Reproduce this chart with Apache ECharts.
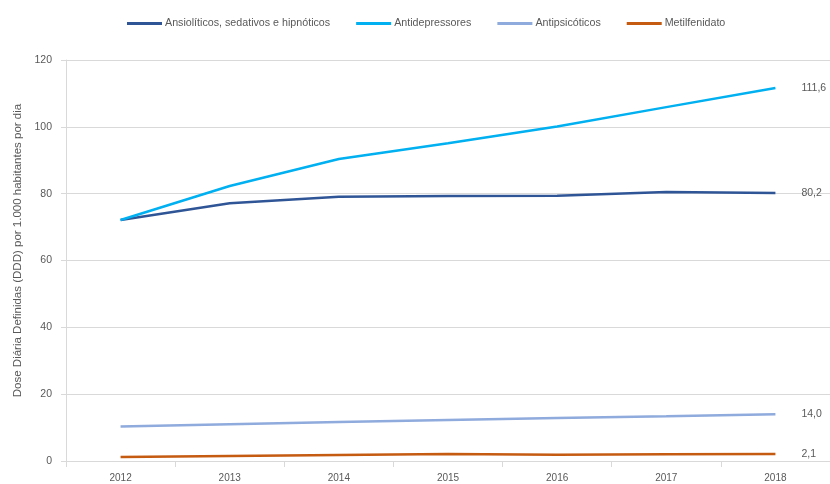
<!DOCTYPE html>
<html>
<head>
<meta charset="utf-8">
<script src="https://cdn.jsdelivr.net/npm/echarts@6/dist/echarts.min.js"></script>
<style>
html,body{margin:0;padding:0;background:#fff;}
#c{width:830px;height:484px;}
</style>
</head>
<body>
<div id="c"></div>
<script>
var years = ['2012','2013','2014','2015','2016','2017','2018'];
var ansioliticos = [72.1, 77.1, 79.1, 79.3, 79.4, 80.5, 80.2];
var antidepressores = [72.1, 82.3, 90.4, 95.1, 100.1, 105.9, 111.6];
var antipsicoticos = [10.3, 11.0, 11.7, 12.3, 12.9, 13.4, 14.0];
var metilfenidato = [1.2, 1.5, 1.8, 2.1, 1.9, 2.0, 2.1];
var seriesNames = ['Ansiolíticos, sedativos e hipnóticos','Antidepressores','Antipsicóticos','Metilfenidato'];
var colors = ['#2F5597','#00B0F0','#8FAADC','#C55A11'];
var yTitle = 'Dose Diária Definidas (DDD) por 1.000 habitantes por dia';

var font = '"Liberation Sans", Arial, sans-serif';
var textColor = '#595959';

function mk(name, data, color) {
  return {
    name: name, type: 'line', data: data,
    symbol: 'none', smooth: false,
    lineStyle: {color: color, width: 2.5},
    itemStyle: {color: color},
    endLabel: {
      show: true, distance: 26,
      color: textColor, fontFamily: font, fontSize: 10.5,
      formatter: function(p){ return Number(p.value).toFixed(1).replace('.', ','); }
    },
    emphasis: {disabled: true}
  };
}

var chart = echarts.init(document.getElementById('c'), null, {renderer:'canvas'});
chart.setOption({
  animation: false,
  color: colors,
  legend: {
    left: 127, top: 18, padding: 0,
    itemWidth: 35, itemHeight: 3, itemGap: 26,
    icon: 'rect',
    textStyle: {color: textColor, fontFamily: font, fontSize: 10.7, padding: [0,0,6,-2]},
    data: seriesNames
  },
  grid: {left: 66, right: -8, top: 60, bottom: 23, containLabel: false},
  xAxis: {
    type: 'category', data: years, boundaryGap: true,
    axisLine: {lineStyle: {color: '#d9d9d9', width: 1}},
    axisTick: {show: true, length: 6, lineStyle: {color: '#d9d9d9'}},
    axisLabel: {color: textColor, fontFamily: font, fontSize: 10, margin: 12}
  },
  yAxis: {
    type: 'value', min: 0, max: 120, interval: 20,
    name: yTitle, nameLocation: 'middle', nameGap: 22,
    nameTextStyle: {color: textColor, fontFamily: font, fontSize: 11.5, padding: [0,0,0,20]},
    axisLine: {show: true, lineStyle: {color: '#d9d9d9'}},
    axisTick: {show: true, length: 5, lineStyle: {color: '#d9d9d9'}},
    axisLabel: {color: textColor, fontFamily: font, fontSize: 10.5, margin: 14},
    splitLine: {lineStyle: {color: '#d9d9d9', width: 1}}
  },
  series: [
    mk(seriesNames[0], ansioliticos, colors[0]),
    mk(seriesNames[1], antidepressores, colors[1]),
    mk(seriesNames[2], antipsicoticos, colors[2]),
    mk(seriesNames[3], metilfenidato, colors[3])
  ]
});
</script>
</body>
</html>
